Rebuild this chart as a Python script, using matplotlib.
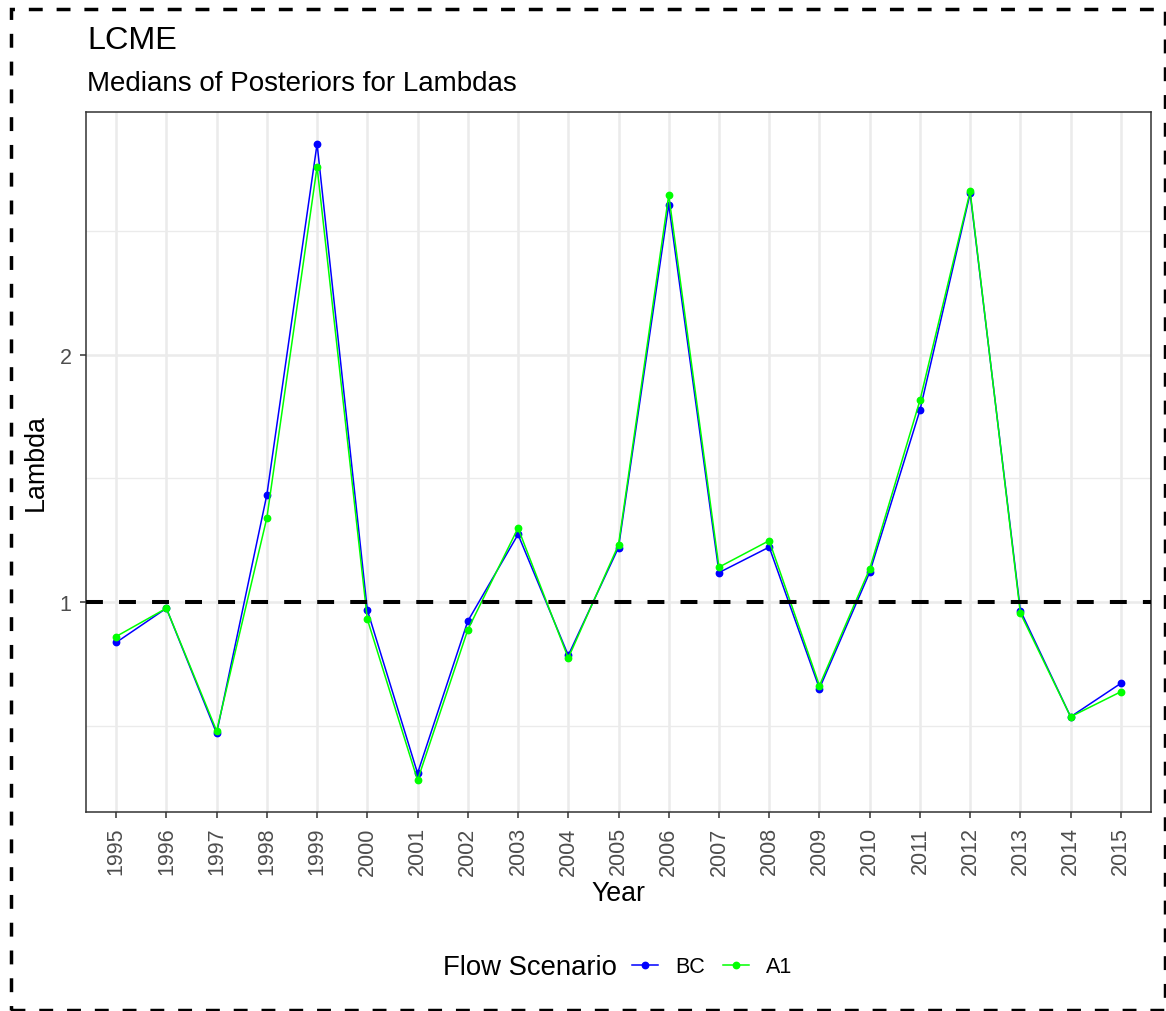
import matplotlib
matplotlib.use('Agg')
import matplotlib.pyplot as plt
from matplotlib.patches import Rectangle
from matplotlib.ticker import MultipleLocator, FixedLocator

plt.rcParams['font.family'] = ['Liberation Sans', 'DejaVu Sans']

# --- data ---
years = ['1995', '1996', '1997', '1998', '1999', '2000', '2001', '2002', '2003', '2004',
         '2005', '2006', '2007', '2008', '2009', '2010', '2011', '2012', '2013', '2014', '2015']
bc = [0.838, 0.976, 0.471, 1.434, 2.851, 0.969, 0.310, 0.924, 1.274, 0.786,
      1.221, 2.606, 1.120, 1.223, 0.652, 1.121, 1.775, 2.651, 0.967, 0.538, 0.673]
a1 = [0.862, 0.976, 0.481, 1.341, 2.758, 0.932, 0.282, 0.889, 1.300, 0.775,
      1.232, 2.644, 1.142, 1.249, 0.664, 1.135, 1.815, 2.659, 0.956, 0.538, 0.639]
ref_level = 1.0

W, H = 1166, 1012
fig = plt.figure(figsize=(W / 100, H / 100), dpi=100)

# panel position in pixels: left 86, right 1151, top 113, bottom 813
ax = fig.add_axes([86 / W, 1 - 813 / H, (1151 - 86) / W, (813 - 113) / H])

x = list(range(len(years)))
l_bc, = ax.plot(x, bc, color='#0000FF', lw=1.1, marker='o', ms=4.6, zorder=3, label='BC')
l_a1, = ax.plot(x, a1, color='#00FF00', lw=1.1, marker='o', ms=4.6, zorder=4, label='A1')
ax.axhline(ref_level, color='black', lw=2.9, linestyle=(0, (4.2, 4.0)), zorder=5)

# ggplot-like expansion
ymin = min(bc + a1)
ymax = max(bc + a1)
pad = (ymax - ymin) * 0.05
ax.set_ylim(ymin - pad, ymax + pad)
ax.set_xlim(-0.6, len(years) - 1 + 0.6)

ax.set_xticks(x)
ax.set_xticklabels(years, rotation=90)
ax.yaxis.set_major_locator(FixedLocator([1, 2]))
ax.yaxis.set_minor_locator(FixedLocator([0.5, 1.5, 2.5]))
ax.set_yticklabels(['1', '2'])

ax.grid(True, which='major', color='#EBEBEB', lw=1.8, zorder=0)
ax.grid(True, which='minor', axis='y', color='#EBEBEB', lw=0.95, zorder=0)
ax.set_axisbelow(True)

ax.tick_params(axis='both', which='major', length=4.3, width=1.1, color='#333333',
               labelcolor='#4D4D4D', labelsize=15.5, pad=6)
ax.tick_params(axis='y', which='minor', length=0)
for s in ax.spines.values():
    s.set_color('#333333')
    s.set_linewidth(1.1)

ax.set_xlabel('Year', fontsize=19.3, labelpad=4)
ax.set_ylabel('Lambda', fontsize=19.3, labelpad=8)

fig.text(87 / W, 1 - 49 / H, 'LCME', fontsize=23.3, ha='left', va='baseline')
fig.text(87 / W, 1 - 91 / H, 'Medians of Posteriors for Lambdas', fontsize=20,
         ha='left', va='baseline')

# legend at the bottom, title to the left
fig.text(617 / W, 1 - 968 / H, 'Flow Scenario', fontsize=19.8, ha='right', va='center')
fig.legend(handles=[l_bc, l_a1], loc='center left', bbox_to_anchor=(632 / W, 1 - 968 / H),
           ncol=2, frameon=False, fontsize=15.5, handlelength=1.2, handletextpad=0.8,
           columnspacing=0.85, borderpad=0, borderaxespad=0)

# dashed outer border
fig.patches.append(Rectangle((11 / W, 1 - 1011 / H), (1165 - 11) / W, (1011 - 10) / H,
                             transform=fig.transFigure, fill=False, ec='black', lw=2.5,
                             linestyle=(0, (4, 4))))

fig.savefig('out.png', dpi=100)
